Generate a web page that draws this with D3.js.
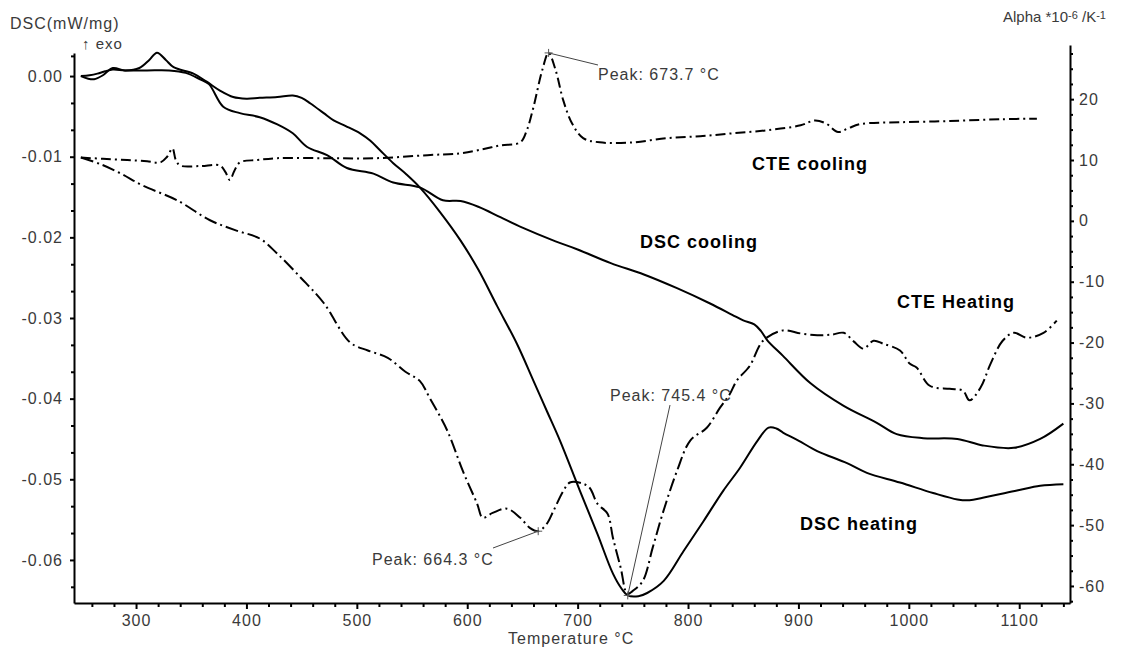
<!DOCTYPE html>
<html>
<head>
<meta charset="utf-8">
<script src="https://cdn.jsdelivr.net/npm/d3@7"></script>
<style>
body { margin: 0; background: #fff; }
text { font-family: "Liberation Sans", Arial, sans-serif; }
</style>
</head>
<body>
<div id="chart-area"></div>
<script>

// DSC heating (mW/mg, left axis)
let dscHeatT = [250, 256, 262, 270, 279, 290, 303, 312, 319, 327, 334, 352, 364, 376, 388, 400, 412, 428, 442, 450, 458, 470, 479, 490, 503, 512, 521, 533, 545, 557, 575, 594, 610, 627, 645, 660, 672, 684, 702, 718, 732, 740, 745.4, 755, 763, 778, 796, 814, 832, 847, 863, 873, 880, 886, 900, 917, 944, 962, 992, 1022, 1044, 1055, 1067, 1098, 1119, 1140];
let dscHeatV = [0.0000, -0.0003, -0.0004, 0.0001, 0.0010, 0.0007, 0.0010, 0.0020, 0.0029, 0.0020, 0.0011, 0.0003, -0.0007, -0.0018, -0.0026, -0.0028, -0.0027, -0.0026, -0.0024, -0.0027, -0.0034, -0.0046, -0.0055, -0.0062, -0.0071, -0.0080, -0.0092, -0.0108, -0.0122, -0.0138, -0.0168, -0.0204, -0.0240, -0.0285, -0.0332, -0.0378, -0.0415, -0.0452, -0.0514, -0.0568, -0.0617, -0.0636, -0.0644, -0.0645, -0.0641, -0.0626, -0.0589, -0.0552, -0.0514, -0.0486, -0.0452, -0.0436, -0.0437, -0.0442, -0.0452, -0.0465, -0.0480, -0.0492, -0.0504, -0.0517, -0.0525, -0.0526, -0.0523, -0.0514, -0.0508, -0.0506];

// DSC cooling (mW/mg, left axis)
let dscCoolT = [250, 258, 265, 272, 279, 290, 310, 330, 345, 358, 366, 379, 394, 412, 428, 442, 455, 473, 491, 515, 533, 557, 578, 594, 610, 630, 650, 680, 700, 730, 760, 790, 820, 840, 850, 860, 866, 872, 886, 911, 941, 971, 989, 1013, 1044, 1067, 1095, 1119, 1140];
let dscCoolV = [0.0000, 0.0001, 0.0003, 0.0006, 0.0008, 0.0007, 0.0007, 0.0007, 0.0004, -0.0004, -0.0010, -0.0038, -0.0046, -0.0051, -0.0060, -0.0071, -0.0088, -0.0098, -0.0114, -0.0121, -0.0132, -0.0138, -0.0154, -0.0155, -0.0162, -0.0175, -0.0188, -0.0205, -0.0215, -0.0232, -0.0246, -0.0263, -0.0282, -0.0296, -0.0303, -0.0308, -0.0316, -0.0328, -0.0347, -0.0381, -0.0409, -0.0430, -0.0444, -0.0449, -0.0450, -0.0458, -0.0461, -0.0450, -0.0431];

// CTE cooling (10^-6/K, right axis)
let cteCoolT = [250, 270, 292, 310, 322, 328, 333, 336, 340, 358, 376, 381, 385, 389, 394, 410, 428, 473, 518, 564, 594, 615, 630, 648, 654, 660, 668, 673.7, 680, 687, 695, 705, 720, 750, 781, 811, 841, 872, 902, 915, 925, 936, 945, 956, 992, 1037, 1083, 1116];
let cteCoolV = [10.4, 10.2, 10.0, 9.8, 9.6, 10.5, 11.9, 10.0, 9.1, 9.0, 9.1, 8.0, 6.7, 8.2, 9.6, 10.0, 10.3, 10.3, 10.3, 10.8, 11.1, 11.8, 12.4, 12.9, 14.9, 18.7, 24.8, 27.6, 24.8, 19.8, 16.0, 13.6, 12.9, 12.9, 13.6, 13.9, 14.4, 14.9, 15.7, 16.5, 16.0, 14.6, 15.2, 15.9, 16.2, 16.4, 16.7, 16.8];

// CTE heating (10^-6/K, right axis)
let cteHeatT = [250, 268, 286, 306, 337, 367, 391, 412, 428, 449, 470, 494, 510, 528, 544, 557, 566, 582, 596, 609, 614, 623, 636, 648, 657, 664.3, 672, 678, 687, 693, 705, 711, 718, 727, 732, 739, 745, 750, 759, 768, 777, 790, 802, 817, 829, 838, 844, 856, 868, 886, 902, 917, 930, 941, 950, 959, 968, 977, 992, 1001, 1007, 1019, 1037, 1049, 1055, 1065, 1074, 1085, 1095, 1107, 1122, 1134];
let cteHeatV = [10.4, 9.3, 7.8, 5.8, 3.4, 0.1, -1.6, -2.9, -5.4, -9.3, -13.5, -20.0, -21.3, -22.5, -24.8, -26.3, -29.1, -34.5, -41.1, -46.5, -48.8, -48.0, -47.3, -48.8, -50.5, -51.0, -49.8, -47.7, -44.4, -43.0, -43.2, -43.9, -46.5, -48.1, -52.1, -57.0, -61.3, -60.8, -59.2, -53.7, -48.1, -41.1, -36.1, -34.0, -30.7, -28.4, -26.3, -23.8, -19.7, -18.0, -18.5, -18.8, -18.7, -18.4, -19.8, -21.0, -19.7, -20.2, -21.3, -23.5, -24.1, -27.1, -27.6, -27.9, -29.5, -27.4, -23.5, -19.7, -18.4, -19.2, -18.4, -16.4];

// tick values
let xTicks = [300, 400, 500, 600, 700, 800, 900, 1000, 1100];
let leftTicks = [0, -0.01, -0.02, -0.03, -0.04, -0.05, -0.06];
let rightTicks = [20, 10, 0, -10, -20, -30, -40, -50, -60];

// peak annotations
let peakLabels = ["Peak: 673.7 °C", "Peak: 664.3 °C", "Peak: 745.4 °C"];
let peakT = [673.7, 664.3, 745.4];
let peakV = [27.6, -51.0, -0.0644];
let peakAxis = ["right", "right", "left"];

// curve labels
let curveLabels = ["CTE cooling", "DSC cooling", "CTE Heating", "DSC heating"];

// layout (pixels)
let W = 1142, H = 650;
let peakLayout = [
	{tx: 598, ty: 80, lx: 598, ly: 65},
	{tx: 372, ty: 565, lx: 493, ly: 548},
	{tx: 610, ty: 401, lx: 670, ly: 405}
];
let labelLayout = [
	{x: 752, y: 170}, {x: 640, y: 248}, {x: 897, y: 308}, {x: 800, y: 530}
];
let textColor = "#3a3a3a";

let svg = d3.select("#chart-area").append("svg")
	.attr("width", W)
	.attr("height", H);

// Scales
let x = d3.scaleLinear().domain([243.8, 1146]).range([74, 1070]);
let yL = d3.scaleLinear().domain([-0.06534, 0.00286]).range([603, 53]);
let yR = d3.scaleLinear().domain([-62.8, 28.9]).range([603, 45]);

// minor ticks
let xMinor = d3.range(260, 1141, 20).filter(d => d % 100 !== 0);
let leftMinor = d3.range(1, 20).map(i => -i * 0.01 / 3).filter((d, i) => (i + 1) % 3 !== 0).concat([0.01 / 3 * 0.75]);
let rightMinor = d3.range(-62.5, 28, 2.5).filter(d => d % 10 !== 0);

function styleAxis(g) {
	g.select(".domain").attr("stroke", "#000").attr("stroke-width", 2);
	g.selectAll(".tick line").attr("stroke", "#000").attr("stroke-width", 2);
	g.selectAll(".tick text")
		.attr("fill", textColor)
		.style("font-size", "16px")
		.style("letter-spacing", "1px");
}

// minor axes first
svg.append("g")
	.attr("transform", "translate(0,603)")
	.call(d3.axisBottom(x).tickValues(xMinor).tickSize(4).tickFormat(""))
	.call(g => g.select(".domain").remove())
	.call(styleAxis);
svg.append("g")
	.attr("transform", "translate(74,0)")
	.call(d3.axisLeft(yL).tickValues(leftMinor.filter(d => d > -0.065 && d < 0.0028)).tickSize(3).tickFormat(""))
	.call(g => g.select(".domain").remove())
	.call(styleAxis);
svg.append("g")
	.attr("transform", "translate(1070,0)")
	.call(d3.axisRight(yR).tickValues(rightMinor).tickSize(3).tickFormat(""))
	.call(g => g.select(".domain").remove())
	.call(styleAxis);

// major axes
svg.append("g")
	.attr("class", "x-axis axis")
	.attr("transform", "translate(0,603)")
	.call(d3.axisBottom(x).tickValues(xTicks).tickSize(6).tickSizeOuter(0).tickPadding(6).tickFormat(d => String(d)))
	.call(styleAxis);
svg.append("g")
	.attr("class", "y-axis axis")
	.attr("transform", "translate(74,0)")
	.call(d3.axisLeft(yL).tickValues(leftTicks).tickSize(4).tickSizeOuter(0).tickPadding(7).tickFormat(d => d.toFixed(2)))
	.call(styleAxis);
svg.append("g")
	.attr("class", "y-axis axis")
	.attr("transform", "translate(1070,0)")
	.call(d3.axisRight(yR).tickValues(rightTicks).tickSize(4).tickSizeOuter(0).tickPadding(5).tickFormat(d => String(d)))
	.call(styleAxis);

// axis titles
svg.append("text")
	.attr("x", 10).attr("y", 29)
	.attr("fill", textColor)
	.style("font-size", "16px").style("letter-spacing", "1px")
	.text("DSC(mW/mg)");
svg.append("text")
	.attr("x", 82).attr("y", 49)
	.attr("fill", textColor)
	.style("font-size", "15px").style("letter-spacing", "1px")
	.text("↑ exo");
let alpha = svg.append("text")
	.attr("x", 1003).attr("y", 22)
	.attr("fill", textColor)
	.style("font-size", "15px");
alpha.append("tspan").text("Alpha *10");
alpha.append("tspan").attr("dy", -3).style("font-size", "11px").text("-6");
alpha.append("tspan").attr("dy", 3).text(" /K");
alpha.append("tspan").attr("dy", -3).style("font-size", "11px").text("-1");
svg.append("text")
	.attr("x", 508).attr("y", 644)
	.attr("fill", textColor)
	.style("font-size", "16px").style("letter-spacing", "1px")
	.text("Temperature °C");

// curves
let lineL = d3.line().x(d => x(d[0])).y(d => yL(d[1])).curve(d3.curveCatmullRom.alpha(0.5));
let lineR = d3.line().x(d => x(d[0])).y(d => yR(d[1])).curve(d3.curveCatmullRom.alpha(0.5));

let series = [
	{data: d3.zip(dscHeatT, dscHeatV), line: lineL, dash: null},
	{data: d3.zip(dscCoolT, dscCoolV), line: lineL, dash: null},
	{data: d3.zip(cteCoolT, cteCoolV), line: lineR, dash: "10,4,2,4"},
	{data: d3.zip(cteHeatT, cteHeatV), line: lineR, dash: "13,4,2,4"}
];

svg.selectAll(".line")
	.data(series)
	.enter()
	.append("path")
	.attr("class", "line")
	.attr("fill", "none")
	.attr("stroke", "#000")
	.attr("stroke-width", 2)
	.attr("stroke-linejoin", "round")
	.attr("stroke-dasharray", d => d.dash)
	.attr("d", d => d.line(d.data));

// peak annotations
peakLabels.forEach((label, i) => {
	let px = x(peakT[i]);
	let py = peakAxis[i] === "left" ? yL(peakV[i]) : yR(peakV[i]);
	let p = peakLayout[i];
	svg.append("line")
		.attr("x1", px).attr("y1", py).attr("x2", p.lx).attr("y2", p.ly)
		.attr("stroke", "#444").attr("stroke-width", 1);
	svg.append("path")
		.attr("d", "M" + (px - 4) + "," + py + "H" + (px + 4) + "M" + px + "," + (py - 4) + "V" + (py + 4))
		.attr("stroke", "#555").attr("stroke-width", 1);
	svg.append("text")
		.attr("x", p.tx).attr("y", p.ty)
		.attr("fill", textColor)
		.style("font-size", "16px").style("letter-spacing", "1px")
		.text(label);
});

// curve labels
svg.selectAll(".curve-label")
	.data(curveLabels)
	.enter()
	.append("text")
	.attr("class", "curve-label")
	.attr("x", (d, i) => labelLayout[i].x)
	.attr("y", (d, i) => labelLayout[i].y)
	.attr("fill", "#000")
	.style("font-size", "18px")
	.style("font-weight", "bold")
	.style("letter-spacing", "1px")
	.text(d => d);

</script>
</body>
</html>
